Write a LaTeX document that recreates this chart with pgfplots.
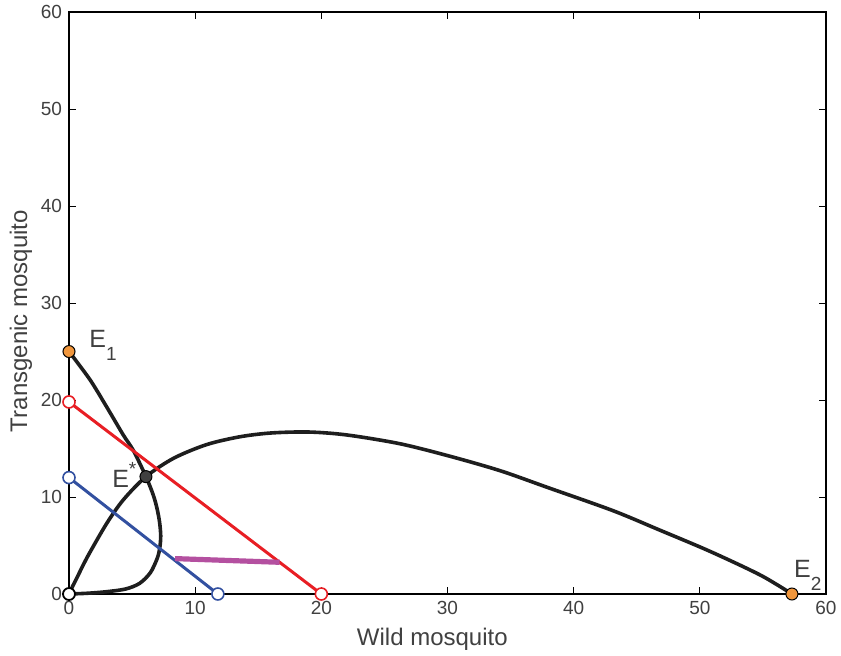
\documentclass[border=0pt]{standalone}
\usepackage{pgfplots}
\pgfplotsset{compat=1.18}
\usepackage{fontspec}
\setmainfont{Liberation Sans}

\definecolor{txtgray}{RGB}{64,64,64}
\definecolor{curveblk}{RGB}{30,30,30}
\definecolor{ptorange}{RGB}{240,150,60}
\definecolor{lnred}{RGB}{232,30,36}
\definecolor{lnblue}{RGB}{50,80,160}
\definecolor{lnmag}{RGB}{180,80,160}
\definecolor{estar}{RGB}{64,64,64}

\newcommand{\sub}[1]{\raisebox{-6.5pt}{\fontsize{9.5}{10}\selectfont #1}}
\newcommand{\sups}[1]{\raisebox{6pt}{\fontsize{9.5}{10}\selectfont #1}}

\begin{document}
\begin{tikzpicture}
  \begin{axis}[
      scale only axis,
      width=378.5pt,
      height=291pt,
      xmin=0, xmax=60,
      ymin=0, ymax=60,
      xtick={0,10,...,60},
      ytick={0,10,...,60},
      tick align=inside,
      tick pos=both,
      major tick length=3.5pt,
      tick style={black,line width=0.5pt},
      axis line style={black,line width=0.6pt},
      tick label style={font=\fontsize{9.5}{11}\selectfont,text=txtgray},
      /pgf/number format/assume math mode=true,
      label style={font=\fontsize{12}{14}\selectfont,text=txtgray},
      xlabel={Wild mosquito},
      ylabel={Transgenic mosquito},
      xlabel style={at={(axis description cs:0.48,0)},anchor=base,yshift=-25.5pt},
      ylabel style={at={(axis description cs:-0.0634,0.469)},anchor=center},
      clip=false,
    ]
    % nullcline through E1
    \addplot[curveblk,line width=1.8pt,smooth,tension=0.5] coordinates {
      (0,25) (1.66,22.1) (2.98,19.3) (4.3,16.4) (5.1,14.8) (6.1,12.1)
      (6.68,10.2) (6.98,8.8) (7.18,7.4) (7.27,6.0) (7.2,4.8) (7.0,3.7)
      (6.45,2.2) (5.6,1.1) (4.5,0.52) (3.0,0.24) (1.5,0.08) (0,0)};
    % nullcline through E2
    \addplot[curveblk,line width=1.8pt,smooth,tension=0.5] coordinates {
      (0,0) (0.25,0.7) (0.6,1.6) (1.13,3.0) (1.66,4.3) (3.0,7.3) (4.3,9.7)
      (6.1,12.1) (8.3,14.0) (10.9,15.4) (13.5,16.2) (16,16.6) (19,16.7)
      (22,16.4) (26.2,15.5) (30.2,14.2) (34.2,12.7) (37.9,11.0) (43.1,8.6)
      (46.8,6.6) (50.8,4.4) (54.8,1.95) (57.3,0)};
    % red and blue lines
    \addplot[lnred,line width=1.5pt] coordinates {(0,19.8) (20,0)};
    \addplot[lnblue,line width=1.5pt] coordinates {(0,12) (11.8,0)};
    \addplot[lnmag,line width=2.6pt] coordinates {(8.4,3.65) (16.7,3.27)};
    % markers
    \addplot[only marks,mark=*,mark size=3pt,mark options={fill=white,draw=lnred,line width=0.8pt}]
      coordinates {(0,19.8) (20,0)};
    \addplot[only marks,mark=*,mark size=3pt,mark options={fill=white,draw=lnblue,line width=0.8pt}]
      coordinates {(0,12) (11.8,0)};
    \addplot[only marks,mark=*,mark size=3pt,mark options={fill=white,draw=black,line width=0.9pt}]
      coordinates {(0,0)};
    \addplot[only marks,mark=*,mark size=3pt,mark options={fill=ptorange,draw=black,line width=0.5pt}]
      coordinates {(0,25) (57.3,0)};
    \addplot[only marks,mark=*,mark size=3pt,mark options={fill=estar,draw=black,line width=0.5pt}]
      coordinates {(6.1,12.1)};
    % labels
    \node[anchor=base west,inner sep=0pt,text=txtgray,font=\fontsize{12.5}{14}\selectfont]
      at (axis cs:1.58,25.46) {E\sub{1}};
    \node[anchor=base west,inner sep=0pt,text=txtgray,font=\fontsize{12.5}{14}\selectfont]
      at (axis cs:3.4,11.03) {E\sups{*}};
    \node[anchor=base west,inner sep=0pt,text=txtgray,font=\fontsize{12.5}{14}\selectfont]
      at (axis cs:57.45,1.75) {E\sub{2}};
  \end{axis}
  \pgfresetboundingbox
  \path[use as bounding box] (-34.5pt,-30.5pt) rectangle (386pt,297pt);
\end{tikzpicture}
\end{document}
